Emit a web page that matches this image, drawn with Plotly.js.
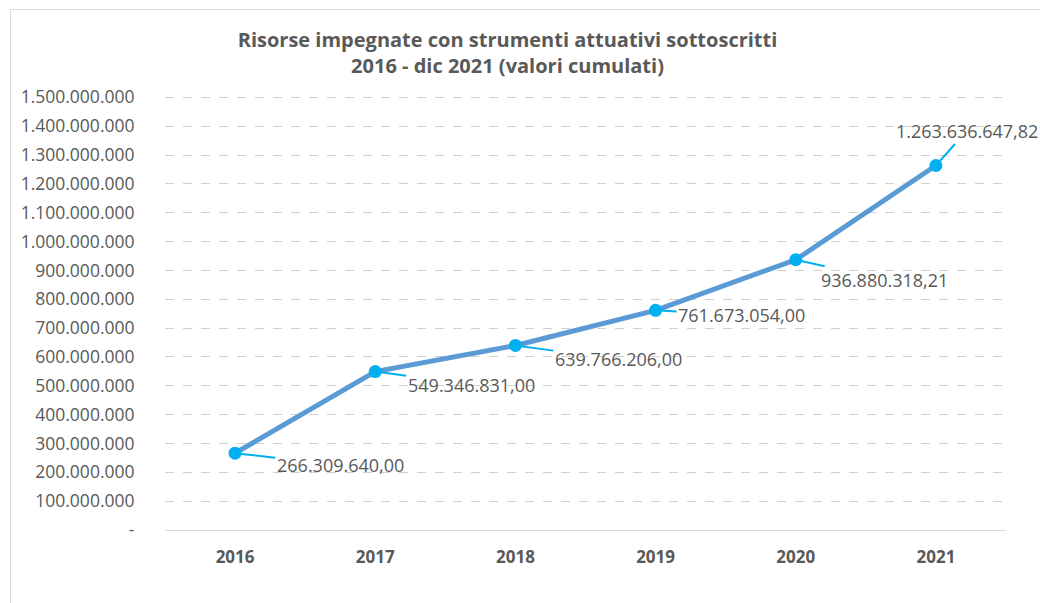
<!DOCTYPE html>
<html>
<head>
<meta charset="utf-8">
<script src="https://cdn.plot.ly/plotly-3.0.1.min.js"></script>
<style>
html,body{margin:0;padding:0;background:#fff;}
#frame{position:absolute;left:10px;top:9px;width:1100px;height:700px;border:1px solid #d9d9d9;box-sizing:border-box;}
#chart{position:absolute;left:0;top:0;width:1040px;height:603px;}
</style>
</head>
<body>
<div id="frame"></div>
<div id="chart"></div>
<script>
const years = ['2016','2017','2018','2019','2020','2021'];
const values = [266309640.00, 549346831.00, 639766206.00, 761673054.00, 936880318.21, 1263636647.82];
const labelText = ['266.309.640,00','549.346.831,00','639.766.206,00','761.673.054,00','936.880.318,21','1.263.636.647,82'];
const yTickVals = [0,100000000,200000000,300000000,400000000,500000000,600000000,700000000,800000000,900000000,1000000000,1100000000,1200000000,1300000000,1400000000,1500000000];
const yTickText = ['-','100.000.000','200.000.000','300.000.000','400.000.000','500.000.000','600.000.000','700.000.000','800.000.000','900.000.000','1.000.000.000','1.100.000.000','1.200.000.000','1.300.000.000','1.400.000.000','1.500.000.000'];
const labelOffsetX = [105, 96, 103, 86, 89, 31];
const labelOffsetY = [12, 13, 14, 5, 20, -35];

const FONT = 'Open Sans, Noto Sans, sans-serif';
const GREY = '#595959';

const trace = {
  x: years, y: values, type: 'scatter', mode: 'lines+markers',
  line: {color: '#5B9BD5', width: 5},
  marker: {color: '#00B0F0', size: 13},
  hoverinfo: 'skip'
};

const annotations = years.map((yr, i) => ({
  x: i, y: values[i], xref: 'x', yref: 'y',
  text: labelText[i],
  showarrow: true, arrowhead: 0, arrowwidth: 2, arrowcolor: '#00B0F0',
  ax: labelOffsetX[i], ay: labelOffsetY[i],
  standoff: 0,
  font: {family: FONT, size: 18, color: GREY}
}));

const layout = {
  width: 1040, height: 603,
  paper_bgcolor: 'rgba(0,0,0,0)', plot_bgcolor: 'rgba(0,0,0,0)',
  margin: {l: 165, r: 34, t: 93, b: 73},
  showlegend: false,
  title: {
    text: '<b>Risorse impegnate con strumenti attuativi sottoscritti<br>2016 - dic 2021 (valori cumulati)</b>',
    x: 0.488, xanchor: 'center', y: 0.922, yanchor: 'top',
    font: {family: FONT, size: 20, color: GREY}
  },
  xaxis: {
    type: 'category', range: [-0.5, 5.5],
    showgrid: false, showline: true, linecolor: '#d9d9d9', linewidth: 1,
    ticks: 'outside', ticklen: 12, tickcolor: 'rgba(0,0,0,0)',
    tickfont: {family: FONT, size: 17, color: GREY, weight: 'bold'}
  },
  yaxis: {
    range: [0, 1515000000],
    tickvals: yTickVals, ticktext: yTickText,
    showgrid: true, gridcolor: '#d0d0d0', griddash: 'dash', gridwidth: 1,
    zeroline: false, showline: false,
    ticks: 'outside', ticklen: 26, tickcolor: 'rgba(0,0,0,0)',
    tickfont: {family: FONT, size: 17.5, color: GREY}
  },
  annotations: annotations
};

Plotly.newPlot('chart', [trace], layout, {displayModeBar: false, staticPlot: true});
</script>
</body>
</html>
